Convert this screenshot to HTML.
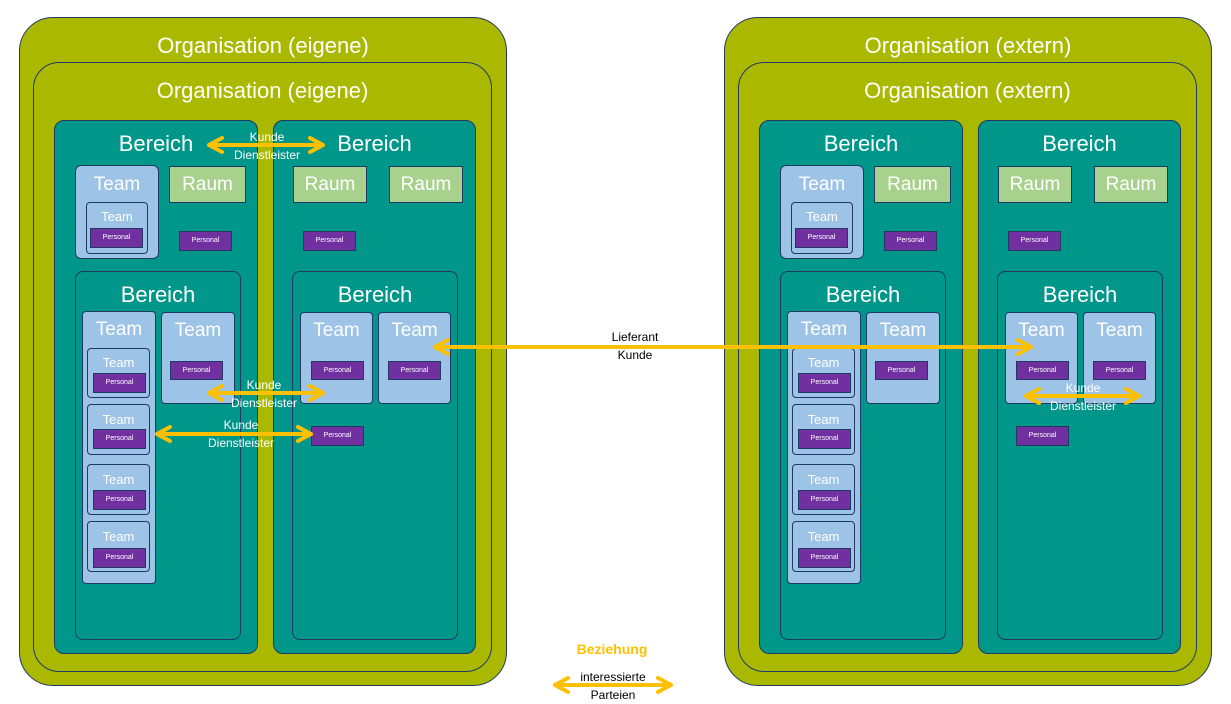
<!DOCTYPE html>
<html><head><meta charset="utf-8">
<style>
html,body{margin:0;padding:0;background:#fff;}
body{width:1231px;height:704px;position:relative;overflow:hidden;font-family:"Liberation Sans",sans-serif;}
.b{position:absolute;box-sizing:border-box;border:1px solid #1f3864;color:#fff;text-align:center;}
.org{background:#aab900;}
.ber{background:#00968a;}
.team{background:#9dc3e6;}
.raum{background:#a9d18e;}
.pers{background:#7030a0;font-size:7px;line-height:18px;}
.t{position:absolute;left:0;right:0;text-align:center;color:#fff;white-space:nowrap;}
svg{position:absolute;left:0;top:0;}
</style></head><body>
<div id="L">
<div class="b org" style="left:19px;top:17px;width:488px;height:669px;border-radius:34px"><div class="t" style="top:15px;font-size:22px">Organisation (eigene)</div></div>
<div class="b org" style="left:33px;top:62px;width:459px;height:610px;border-radius:26px"><div class="t" style="top:15px;font-size:22px">Organisation (eigene)</div></div>
<div class="b ber" style="left:54px;top:120px;width:204px;height:534px;border-radius:10px"><div class="t" style="top:10px;font-size:22px">Bereich</div></div>
<div class="b ber" style="left:273px;top:120px;width:203px;height:534px;border-radius:10px"><div class="t" style="top:10px;font-size:22px">Bereich</div></div>
<div class="b team" style="left:75px;top:165px;width:84px;height:94px;border-radius:6px"><div class="t" style="top:8px;font-size:19px">Team</div></div>
<div class="b team" style="left:86px;top:202px;width:62px;height:52px;border-radius:4px"><div class="t" style="top:6px;font-size:13px">Team</div></div>
<div class="b pers" style="left:90px;top:228px;width:53px;height:20px">Personal</div>
<div class="b raum" style="left:169px;top:166px;width:77px;height:37px"><div class="t" style="top:7px;font-size:19px">Raum</div></div>
<div class="b pers" style="left:179px;top:231px;width:53px;height:20px">Personal</div>
<div class="b ber" style="left:75px;top:271px;width:166px;height:369px;border-radius:8px"><div class="t" style="top:10px;font-size:22px">Bereich</div></div>
<div class="b team" style="left:82px;top:311px;width:74px;height:273px;border-radius:4px"><div class="t" style="top:7px;font-size:19px">Team</div></div>
<div class="b team" style="left:161px;top:312px;width:74px;height:92px;border-radius:4px"><div class="t" style="top:7px;font-size:19px">Team</div></div>
<div class="b pers" style="left:170px;top:361px;width:53px;height:19px">Personal</div>
<div class="b team" style="left:87px;top:348px;width:63px;height:50px;border-radius:4px"><div class="t" style="top:6px;font-size:13px">Team</div></div>
<div class="b pers" style="left:93px;top:373px;width:53px;height:20px">Personal</div>
<div class="b team" style="left:87px;top:404px;width:63px;height:51px;border-radius:4px"><div class="t" style="top:7px;font-size:13px">Team</div></div>
<div class="b pers" style="left:93px;top:429px;width:53px;height:20px">Personal</div>
<div class="b team" style="left:87px;top:464px;width:63px;height:51px;border-radius:4px"><div class="t" style="top:7px;font-size:13px">Team</div></div>
<div class="b pers" style="left:93px;top:490px;width:53px;height:20px">Personal</div>
<div class="b team" style="left:87px;top:521px;width:63px;height:51px;border-radius:4px"><div class="t" style="top:7px;font-size:13px">Team</div></div>
<div class="b pers" style="left:93px;top:548px;width:53px;height:20px">Personal</div>
<div class="b raum" style="left:293px;top:166px;width:74px;height:37px"><div class="t" style="top:7px;font-size:19px">Raum</div></div>
<div class="b raum" style="left:389px;top:166px;width:74px;height:37px"><div class="t" style="top:7px;font-size:19px">Raum</div></div>
<div class="b pers" style="left:303px;top:231px;width:53px;height:20px">Personal</div>
<div class="b ber" style="left:292px;top:271px;width:166px;height:369px;border-radius:8px"><div class="t" style="top:10px;font-size:22px">Bereich</div></div>
<div class="b team" style="left:300px;top:312px;width:73px;height:92px;border-radius:4px"><div class="t" style="top:7px;font-size:19px">Team</div></div>
<div class="b team" style="left:378px;top:312px;width:73px;height:92px;border-radius:4px"><div class="t" style="top:7px;font-size:19px">Team</div></div>
<div class="b pers" style="left:311px;top:361px;width:53px;height:19px">Personal</div>
<div class="b pers" style="left:388px;top:361px;width:53px;height:19px">Personal</div>
<div class="b pers" style="left:311px;top:426px;width:53px;height:20px">Personal</div>
</div>

<svg width="1231" height="704" viewBox="0 0 1231 704">
<g stroke="#ffc000" stroke-width="4" fill="none" stroke-linecap="round">
<path d="M209,145 H323 M209,145 l13,-7 M209,145 l13,7 M323,145 l-13,-7 M323,145 l-13,7"/>
<path d="M209,393 H323 M209,393 l13,-7 M209,393 l13,7 M323,393 l-13,-7 M323,393 l-13,7"/>
<path d="M157,434 H311 M157,434 l13,-7 M157,434 l13,7 M311,434 l-13,-7 M311,434 l-13,7"/>
<path d="M435,347 H1031 M435,347 l13,-7 M435,347 l13,7 M1031,347 l-13,-7 M1031,347 l-13,7"/>
<path d="M1026,396 H1139 M1026,396 l13,-7 M1026,396 l13,7 M1139,396 l-13,-7 M1139,396 l-13,7"/>
<path d="M555,685 H671 M555,685 l13,-7 M555,685 l13,7 M671,685 l-13,-7 M671,685 l-13,7"/>
</g>
<g font-family="Liberation Sans, sans-serif" font-size="12" text-anchor="middle" fill="#fff">
<text x="267" y="141">Kunde</text><text x="267" y="159">Dienstleister</text>
<text x="264" y="389">Kunde</text><text x="264" y="407">Dienstleister</text>
<text x="241" y="429">Kunde</text><text x="241" y="447">Dienstleister</text>
<text x="1083" y="392">Kunde</text><text x="1083" y="410">Dienstleister</text>
</g>
<g font-family="Liberation Sans, sans-serif" font-size="12" text-anchor="middle" fill="#000">
<text x="635" y="341">Lieferant</text><text x="635" y="359">Kunde</text>
<text x="613" y="681">interessierte</text><text x="613" y="699">Parteien</text>
</g>
<text x="612" y="654" font-family="Liberation Sans, sans-serif" font-size="14" font-weight="bold" fill="#ffc000" text-anchor="middle">Beziehung</text>
</svg>

<script>
var L=document.getElementById('L');
var R=L.cloneNode(true);R.id='R';
R.style.position='absolute';R.style.left='705px';R.style.top='0';
var ts=R.querySelectorAll('.t');
for(var i=0;i<ts.length;i++){if(ts[i].textContent.indexOf('eigene')>=0)ts[i].textContent='Organisation (extern)';}
document.body.insertBefore(R,document.querySelector('svg'));
</script>
</body></html>
